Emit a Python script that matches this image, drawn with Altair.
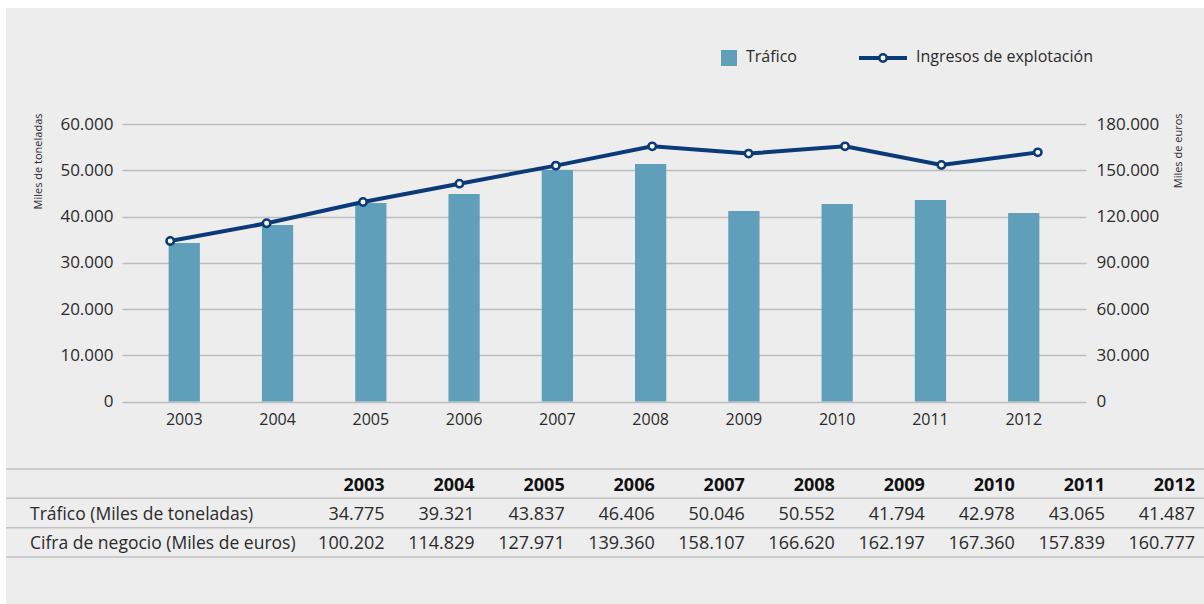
import altair as alt
import pandas as pd

# ---------------- data ----------------
years = ["2003", "2004", "2005", "2006", "2007", "2008", "2009", "2010", "2011", "2012"]
# values as drawn in the chart
trafico_bar = [34270, 38160, 42920, 44860, 50050, 51350, 41190, 42700, 43570, 40760]
ingresos_line = [104100, 115600, 129400, 141300, 153000, 165500, 160800, 165500, 153400, 161600]
# values printed in the table
table_trafico = [34.775, 39.321, 43.837, 46.406, 50.046, 50.552, 41.794, 42.978, 43.065, 41.487]
table_cifra = [100.202, 114.829, 127.971, 139.360, 158.107, 166.620, 162.197, 167.360, 157.839, 160.777]
row_labels = ["Tráfico (Miles de toneladas)", "Cifra de negocio (Miles de euros)"]
left_ticks = [0, 10000, 20000, 30000, 40000, 50000, 60000]
right_ticks = [0, 30000, 60000, 90000, 120000, 150000, 180000]
legend_labels = ["Tráfico", "Ingresos de explotación"]
left_title = "Miles de toneladas"
right_title = "Miles de euros"

BAR = "#5f9fba"
NAVY = "#0a3a78"
GRID = "#bdbdbd"
BG = "#ededed"
TXT = "#2a2a2a"
FONT = "Open Sans"

W, H = 964, 277.5

df = pd.DataFrame({"year": years, "trafico": trafico_bar, "ingresos": ingresos_line})

num_expr = "replace(format(datum.value, ','), ',', '.')"

x_scale = alt.Scale(paddingInner=0.665, paddingOuter=0.5)
x_axis = alt.Axis(title=None, labelAngle=0, labelFontSize=16, labelColor=TXT,
                  labelPadding=10, domain=False, ticks=False, grid=False, labelFont=FONT)

bars = alt.Chart(df).mark_bar(color=BAR).encode(
    x=alt.X("year:N", sort=years, scale=x_scale, axis=x_axis),
    y=alt.Y("trafico:Q",
            scale=alt.Scale(domain=[0, 60000], nice=False),
            axis=alt.Axis(values=left_ticks, labelExpr=num_expr, grid=True, gridColor=GRID,
                          gridWidth=1.5, domain=False, ticks=False, labelFontSize=17,
                          labelColor=TXT, labelPadding=9, labelFont=FONT,
                          title=left_title, titleFontSize=11, titleFontWeight="normal",
                          titleColor=TXT, titleFont=FONT, titleAngle=270, titleAlign="right",
                          titleBaseline="middle", titleX=-84, titleY=-11)),
)

line = alt.Chart(df).mark_line(
    color=NAVY, strokeWidth=4,
    point=alt.OverlayMarkDef(filled=True, fill="white", stroke=NAVY, strokeWidth=2.5,
                             size=55, opacity=1),
).encode(
    x=alt.X("year:N", sort=years, scale=x_scale, axis=None),
    y=alt.Y("ingresos:Q",
            scale=alt.Scale(domain=[0, 180000], nice=False),
            axis=alt.Axis(orient="right", values=right_ticks, labelExpr=num_expr, grid=False,
                          domain=False, ticks=False, labelFontSize=17, labelColor=TXT,
                          labelPadding=10, labelFont=FONT,
                          title=right_title, titleFontSize=11, titleFontWeight="normal",
                          titleColor=TXT, titleFont=FONT, titleAngle=270, titleAlign="right",
                          titleBaseline="middle", titleX=92, titleY=-11)),
)

# ---------------- table ----------------
hdf = pd.DataFrame({"col": years, "row": [0] * len(years)})
vdf = pd.DataFrame({
    "col": years + years,
    "row": [1] * len(years) + [2] * len(years),
    "v": table_trafico + table_cifra,
})
ldf = pd.DataFrame({"label": row_labels, "row": [1, 2]})
rdf = pd.DataFrame({"row": [-0.5, 0.5, 1.5, 2.5]})

tx = alt.X("col:O", sort=years,
           scale=alt.Scale(type="point", range=[262.6, 1073], padding=0), axis=None)
ty = alt.Y("row:Q", scale=alt.Scale(domain=[-0.5, 2.5], range=[345, 433], nice=False, zero=False),
           axis=None)

t_rules = alt.Chart(rdf).mark_rule(color="#c2c2c2", strokeWidth=1.5).encode(
    x=alt.value(-116), x2=alt.value(1082), y=ty)
t_head = alt.Chart(hdf).mark_text(align="right", baseline="middle", fontSize=18, dy=2,
                                  fontWeight="bold", color="#111111", font=FONT).encode(
    x=tx, y=ty, text="col:N")
t_vals = alt.Chart(vdf).mark_text(align="right", baseline="middle", fontSize=18, dy=2,
                                  color=TXT, font=FONT).encode(
    x=tx, y=ty, text=alt.Text("v:Q", format=".3f"))
t_labels = alt.Chart(ldf).mark_text(align="left", baseline="middle", fontSize=17.5, dy=2,
                                    color=TXT, font=FONT).encode(
    x=alt.value(-92), y=ty, text="label:N")

# ---------------- white margins + legend ----------------
one = pd.DataFrame({"k": [0]})
wtop = alt.Chart(one).mark_rect(color="white").encode(
    x=alt.value(-122), x2=alt.value(1082), y=alt.value(-124), y2=alt.value(-116))
wleft = alt.Chart(one).mark_rect(color="white").encode(
    x=alt.value(-122), x2=alt.value(-116), y=alt.value(-124), y2=alt.value(480))

lg_sq = alt.Chart(one).mark_square(size=256, color=BAR, opacity=1).encode(
    x=alt.value(607), y=alt.value(-66))
lg_t1 = alt.Chart(one).mark_text(align="left", baseline="middle", fontSize=16,
                                 color=TXT, font=FONT).encode(
    x=alt.value(624), y=alt.value(-67), text=alt.value(legend_labels[0]))
lg_ln = alt.Chart(one).mark_rule(color=NAVY, strokeWidth=4).encode(
    x=alt.value(737), x2=alt.value(785), y=alt.value(-66))
lg_pt = alt.Chart(one).mark_point(shape="circle", filled=True, fill="white", stroke=NAVY,
                                  strokeWidth=2.5, size=55, opacity=1).encode(
    x=alt.value(761), y=alt.value(-66))
lg_t2 = alt.Chart(one).mark_text(align="left", baseline="middle", fontSize=16,
                                 color=TXT, font=FONT).encode(
    x=alt.value(794), y=alt.value(-67), text=alt.value(legend_labels[1]))

chart = alt.layer(
    wtop, wleft, bars, line, t_rules, t_head, t_vals, t_labels,
    lg_sq, lg_t1, lg_ln, lg_pt, lg_t2,
).resolve_scale(
    x="independent", y="independent"
).properties(
    width=W, height=H,
    padding={"left": 122, "top": 124, "right": 118, "bottom": 202.5},
    autosize=alt.AutoSizeParams(type="none"),
).configure(
    background=BG, font=FONT,
).configure_view(stroke=None)

chart.save("out.html", embed_options={"renderer": "svg", "actions": False})
